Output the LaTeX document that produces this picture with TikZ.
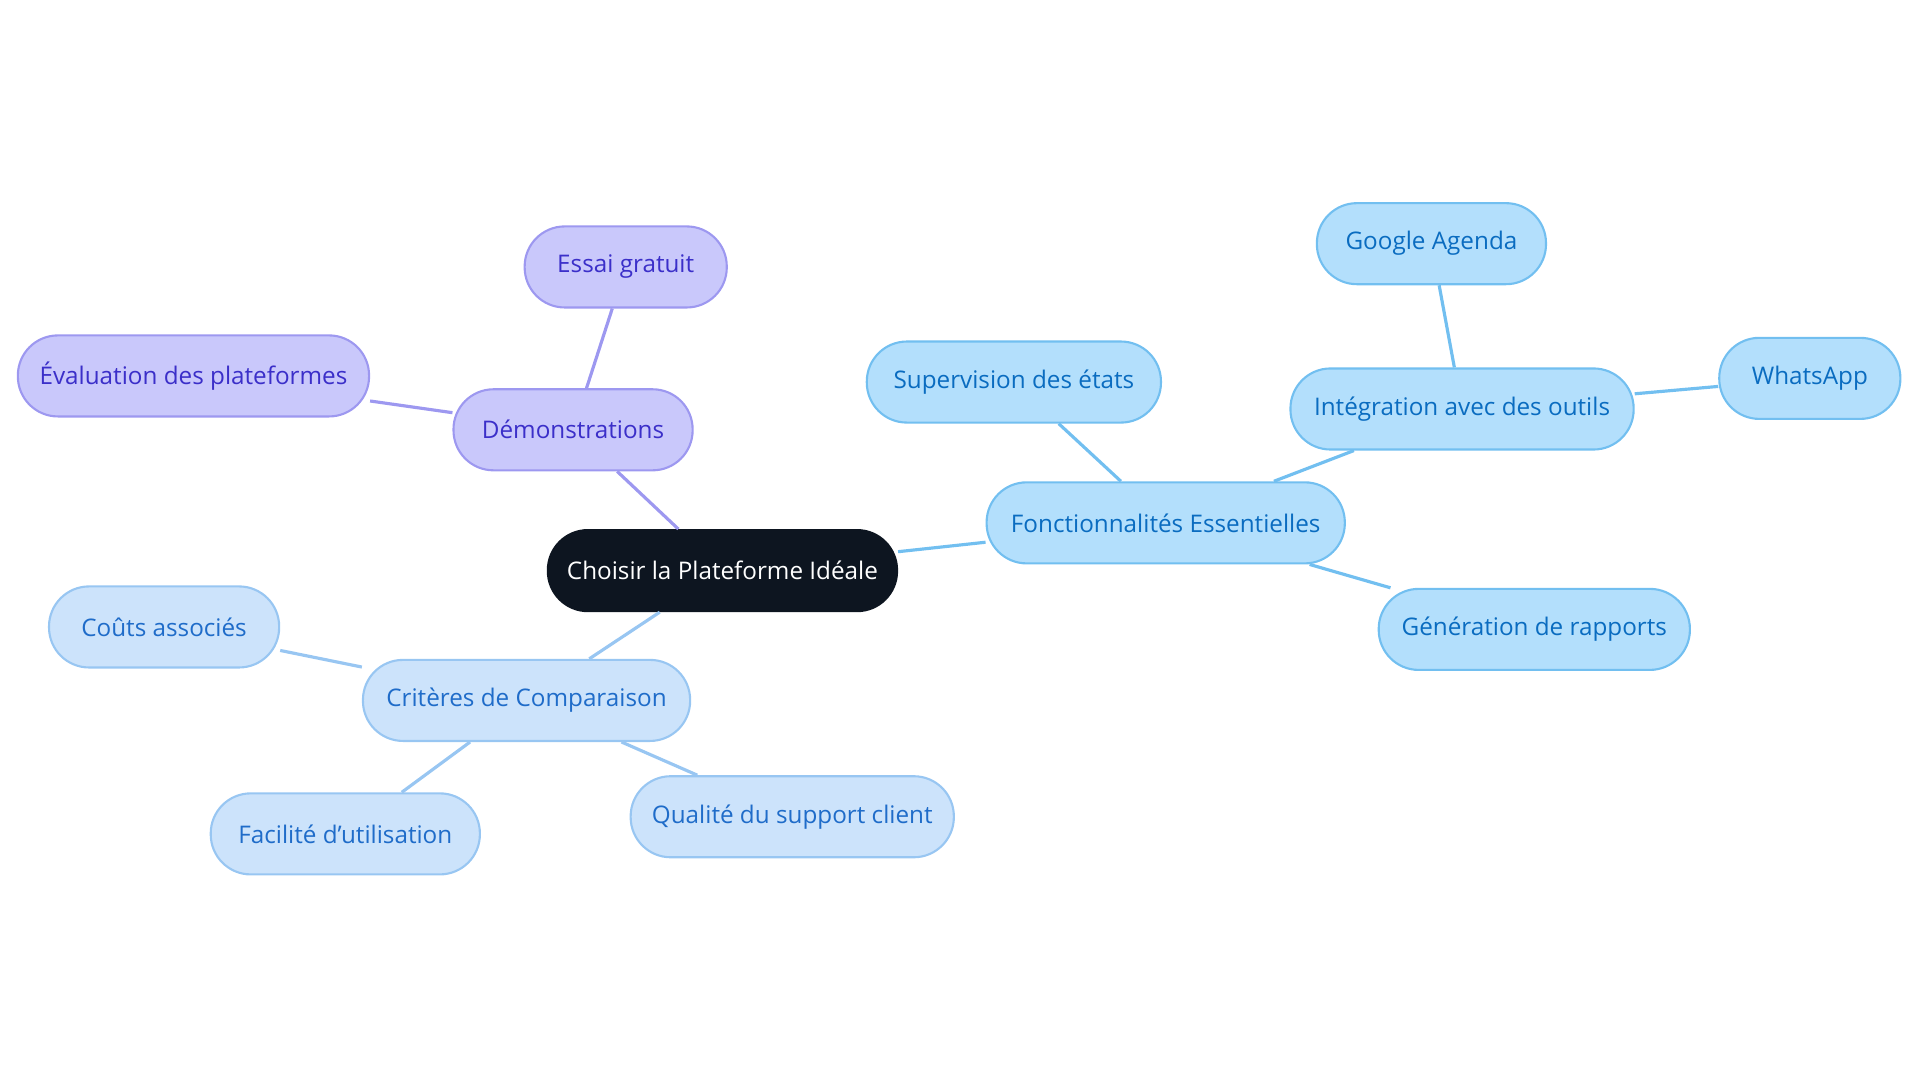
\documentclass[tikz,border=0pt]{standalone}
\usepackage{fontspec}
\setmainfont{Open Sans}
\usetikzlibrary{positioning}
\definecolor{rootfill}{HTML}{0D1520}
\definecolor{demofill}{HTML}{C9C8FB}
\definecolor{demoline}{HTML}{9D98F0}
\definecolor{demotext}{HTML}{3B2FC9}
\definecolor{fonctfill}{HTML}{B3DFFC}
\definecolor{fonctline}{HTML}{72BFF0}
\definecolor{foncttext}{HTML}{0A6CC0}
\definecolor{critfill}{HTML}{CCE3FB}
\definecolor{critline}{HTML}{98C6F2}
\definecolor{crittext}{HTML}{1F6CC9}
\tikzstyle{pill} = [rectangle, rounded corners=0.4cm, minimum height=0.81cm, line width=0.6pt, font=\fontsize{6.9}{8}\selectfont, inner sep=0pt]
\tikzstyle{root} = [pill, fill=rootfill, draw=rootfill, text=white]
\tikzstyle{demo} = [pill, fill=demofill, draw=demoline, text=demotext]
\tikzstyle{fonct} = [pill, fill=fonctfill, draw=fonctline, text=foncttext]
\tikzstyle{crit} = [pill, fill=critfill, draw=critline, text=crittext]
\tikzstyle{link} = [line width=0.9pt]

\begin{document}
\begin{tikzpicture}[x=0.012245cm, y=-0.012245cm]
	\useasboundingbox (0,0) rectangle (1568,884);
	\node (Root) [root, minimum width=3.49cm] at (590,466) {Choisir la Plateforme Idéale};
	\node (Demo) [demo, minimum width=2.39cm] at (468,351) {Démonstrations};
	\node (Essai) [demo, minimum width=2.02cm] at (511,218) {Essai gratuit};
	\node (Evaluation) [demo, minimum width=3.51cm] at (158,307) {Évaluation des plateformes};
	\node (Fonct) [fonct, minimum width=3.58cm] at (952,427) {Fonctionnalités Essentielles};
	\node (Supervision) [fonct, minimum width=2.94cm] at (828,312) {Supervision des états};
	\node (Integration) [fonct, minimum width=3.43cm] at (1194,334) {Intégration avec des outils};
	\node (Google) [fonct, minimum width=2.29cm] at (1169,199) {Google Agenda};
	\node (WhatsApp) [fonct, minimum width=1.81cm] at (1478,309) {WhatsApp};
	\node (Rapports) [fonct, minimum width=3.11cm] at (1253,514) {Génération de rapports};
	\node (Crit) [crit, minimum width=3.27cm] at (430,572) {Critères de Comparaison};
	\node (Couts) [crit, minimum width=2.30cm] at (134,512) {Coûts associés};
	\node (Facilite) [crit, minimum width=2.69cm] at (282,681) {Facilité d'utilisation};
	\node (Qualite) [crit, minimum width=3.23cm] at (647,667) {Qualité du support client};
	\draw [link, demoline] (Root) -- (Demo);
	\draw [link, demoline] (Demo) -- (Essai);
	\draw [link, demoline] (Demo) -- (Evaluation);
	\draw [link, fonctline] (Root) -- (Fonct);
	\draw [link, fonctline] (Fonct) -- (Supervision);
	\draw [link, fonctline] (Fonct) -- (Integration);
	\draw [link, fonctline] (Integration) -- (Google);
	\draw [link, fonctline] (Integration) -- (WhatsApp);
	\draw [link, fonctline] (Fonct) -- (Rapports);
	\draw [link, critline] (Root) -- (Crit);
	\draw [link, critline] (Crit) -- (Couts);
	\draw [link, critline] (Crit) -- (Facilite);
	\draw [link, critline] (Crit) -- (Qualite);
\end{tikzpicture}
\end{document}
